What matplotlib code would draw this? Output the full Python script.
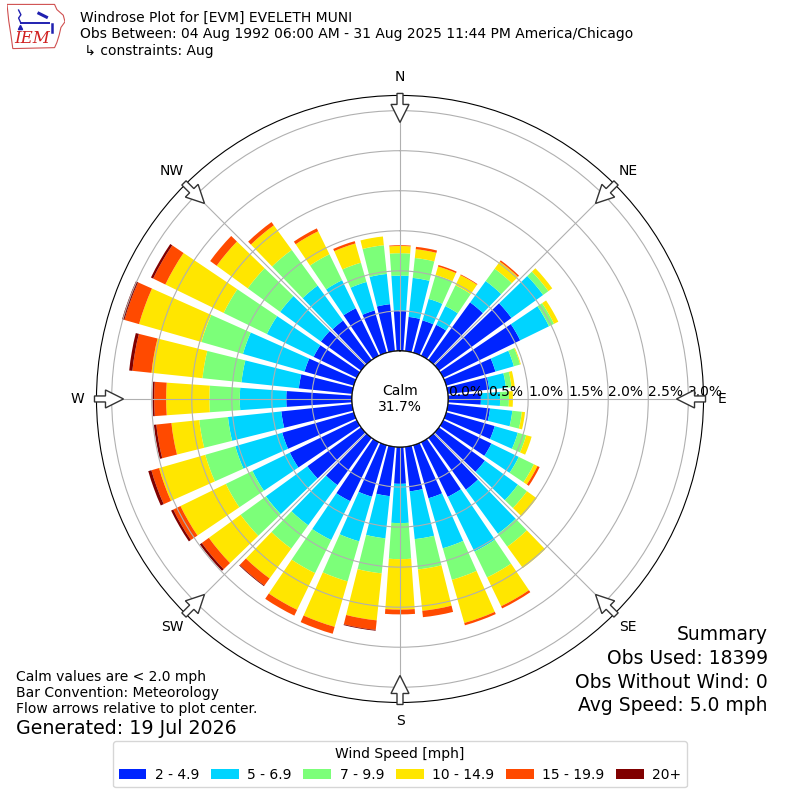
import numpy as np
import matplotlib
matplotlib.use("Agg")
import matplotlib.pyplot as plt
from matplotlib.patches import Circle, FancyArrow, Polygon

# direction bins (deg, met convention) and frequency [%] per speed class
directions = np.arange(0, 360, 10)
speed_labels = ['2 - 4.9', '5 - 6.9', '7 - 9.9', '10 - 14.9', '15 - 19.9', '20+']

freq_2_5 = [0.50, 0.43, 0.42, 0.43, 0.89, 1.12, 1.07, 0.64, 0.52, 0.41,
            0.53, 0.63, 0.67, 0.71, 0.80, 0.76, 0.69, 0.56, 0.46, 0.62,
            0.67, 0.82, 0.73, 0.83, 0.93, 0.93, 0.89, 0.82, 0.67, 0.64,
            0.60, 0.62, 0.61, 0.66, 0.55, 0.59]
freq_5_7 = [0.44, 0.49, 0.28, 0.26, 0.33, 0.49, 0.40, 0.24, 0.21, 0.24,
            0.28, 0.30, 0.38, 0.51, 0.68, 0.76, 0.65, 0.60, 0.49, 0.53,
            0.58, 0.54, 0.62, 0.64, 0.52, 0.61, 0.67, 0.58, 0.72, 0.80,
            0.65, 0.63, 0.54, 0.39, 0.37, 0.38]
freq_7_10 = [0.28, 0.25, 0.31, 0.29, 0.19, 0.08, 0.07, 0.08, 0.07, 0.11,
             0.12, 0.11, 0.21, 0.14, 0.20, 0.36, 0.41, 0.38, 0.45, 0.44,
             0.52, 0.46, 0.36, 0.39, 0.37, 0.39, 0.36, 0.38, 0.49, 0.54,
             0.60, 0.50, 0.55, 0.36, 0.25, 0.36]
freq_10_15 = [0.09, 0.11, 0.11, 0.14, 0.11, 0.06, 0.06, 0.01, 0.04, 0.05,
              0.04, 0.07, 0.05, 0.15, 0.33, 0.40, 0.56, 0.52, 0.63, 0.59,
              0.59, 0.51, 0.46, 0.49, 0.63, 0.60, 0.35, 0.54, 0.64, 0.81,
              0.81, 0.48, 0.38, 0.32, 0.25, 0.11]
freq_15_20 = [0.01, 0.03, 0.02, 0.01, 0.02, 0.00, 0.00, 0.00, 0.00, 0.00,
              0.00, 0.00, 0.03, 0.00, 0.00, 0.03, 0.03, 0.08, 0.06, 0.12,
              0.09, 0.08, 0.11, 0.11, 0.10, 0.10, 0.19, 0.15, 0.24, 0.19,
              0.17, 0.10, 0.05, 0.04, 0.03, 0.00]
freq_20 = [0.00, 0.00, 0.00, 0.00, 0.00, 0.00, 0.00, 0.00, 0.00, 0.00,
           0.00, 0.00, 0.00, 0.00, 0.00, 0.00, 0.00, 0.00, 0.00, 0.01,
           0.00, 0.00, 0.01, 0.03, 0.03, 0.04, 0.03, 0.02, 0.04, 0.03,
           0.03, 0.00, 0.00, 0.00, 0.00, 0.00]

calm_pct = 31.7
rticks = [0.0, 0.5, 1.0, 1.5, 2.0, 2.5, 3.0]
compass = ['N', 'NE', 'E', 'SE', 'S', 'SW', 'W', 'NW']
summary = ['Summary', 'Obs Used: 18399', 'Obs Without Wind: 0',
           'Avg Speed: 5.0 mph']

colors = ['#0024ff', '#00d4ff', '#7cff79', '#ffe600', '#ff4a00', '#800000']

fig = plt.figure(figsize=(8, 8), dpi=100)
ax = fig.add_axes([0.1206, 0.1219, 0.7588, 0.7588], projection='polar')
ax.set_theta_zero_location('N')
ax.set_theta_direction(-1)

theta = np.deg2rad(directions)
width = np.deg2rad(8)
bottom = np.zeros(len(directions))
for vals, col, lab in zip([freq_2_5, freq_5_7, freq_7_10, freq_10_15,
                           freq_15_20, freq_20], colors, speed_labels):
    vals = np.array(vals)
    ax.bar(theta, vals, width=width, bottom=bottom, color=col,
           linewidth=0, label=lab)
    bottom = bottom + vals

ax.set_rorigin(-0.6)
ax.set_ylim(0, 3.19)
ax.set_yticks(rticks)
ax.set_yticklabels(['%.1f%%' % t for t in rticks], fontsize=10)
ax.set_rlabel_position(90)
ax.set_xticks(np.deg2rad(np.arange(0, 360, 45)))
ax.set_xticklabels(compass, fontsize=10)
ax.tick_params(axis='x', pad=3)
ax.grid(True, color='#b0b0b0', linewidth=0.8)

# calm circle
ax.add_patch(Circle((0.5, 0.5), 0.079, transform=ax.transAxes,
                    facecolor='white', edgecolor='black', lw=1.0, zorder=5))
ax.text(0.5, 0.5, 'Calm\n%.1f%%' % calm_pct, transform=ax.transAxes,
        ha='center', va='center', fontsize=10, zorder=6)

# flow arrows on the rim, pointing to the centre
pos = ax.get_position()
cx, cy = pos.x0 + pos.width / 2, pos.y0 + pos.height / 2
rad = pos.width / 2
for d in range(0, 360, 45):
    s, c = np.sin(np.deg2rad(d)), np.cos(np.deg2rad(d))
    r0 = rad + 2 / 800.
    L = 29 / 800.
    fig.patches.append(FancyArrow(cx + r0 * s, cy + r0 * c, -L * s, -L * c,
                                  width=6 / 800., head_width=18 / 800.,
                                  head_length=18 / 800.,
                                  length_includes_head=True,
                                  transform=fig.transFigure, fc='white',
                                  ec='#333333', lw=1.0, zorder=10))

# header
fig.text(0.1, 0.986, 'Windrose Plot for [EVM] EVELETH MUNI\n'
         'Obs Between: 04 Aug 1992 06:00 AM - 31 Aug 2025 11:44 PM America/Chicago\n'
         ' \u21b3 constraints: Aug', ha='left', va='top', fontsize=10)

# rough IEM logo
lax = fig.add_axes([0.00875, 0.9375, 0.0725, 0.05875])
lax.axis('off')
lax.set_xlim(0, 1)
lax.set_ylim(0, 1)
iowa = [(0.0, 0.97), (0.82, 0.97), (0.86, 0.86), (0.97, 0.74), (1.0, 0.60),
        (0.93, 0.48), (0.90, 0.32), (0.86, 0.16), (0.82, 0.05), (0.10, 0.03),
        (0.07, 0.30), (0.03, 0.62), (0.0, 0.97)]
lax.add_patch(Polygon(iowa, closed=True, fill=False, ec='#d05050', lw=0.8))
lax.plot([0.24, 0.72], [0.57, 0.57], color='#2020b0', lw=1.4)
lax.plot([0.20, 0.24, 0.20, 0.24], [0.85, 0.75, 0.68, 0.57], color='#2020b0', lw=1.0)
lax.plot([0.22], [0.50], marker='^', ms=3, color='#2020b0')
lax.plot([0.55, 0.68], [0.78, 0.70], color='#2020b0', lw=2.2)
lax.plot([0.78, 0.78], [0.55, 0.38], color='#2020b0', lw=1.8)
lax.text(0.43, 0.25, 'IEM', color='#d02020', fontsize=12, style='italic',
         family='DejaVu Serif', ha='center', va='center')

# notes
fig.text(0.02, 0.1625, 'Calm values are < 2.0 mph\nBar Convention: Meteorology\n'
         'Flow arrows relative to plot center.', ha='left', va='top',
         fontsize=10)
fig.text(0.02, 0.0888, 'Generated: 19 Jul 2026', ha='left', va='center',
         fontsize=13.7)
for i, line in enumerate(summary):
    fig.text(0.96, 1 - (635 + 23.5 * i) / 800., line, ha='right',
             va='center', fontsize=13.5)

fig.legend(loc='lower center', bbox_to_anchor=(0.5, 0.007), ncol=6,
           title='Wind Speed [mph]', fontsize=10, title_fontsize=10,
           columnspacing=0.85, handletextpad=0.6)

fig.savefig('out.png', dpi=100)
